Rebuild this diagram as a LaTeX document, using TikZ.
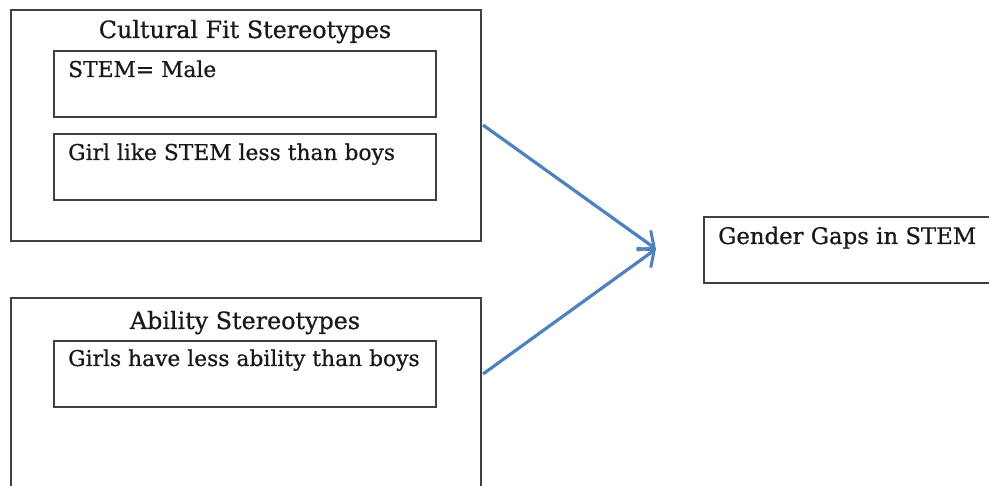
\documentclass[tikz,border=0pt]{standalone}
\usepackage{fontspec}
\setmainfont[UprightFeatures={FakeBold=0.7}]{DejaVu Serif}
\usetikzlibrary{arrows.meta,calc}
\tikzset{
  box/.style={draw=black!75, line width=1.6pt, inner sep=0pt, anchor=north west},
  lbl/.style={font=\fontsize{21.8}{26}\selectfont, text=black!90, inner sep=0pt},
  ttl/.style={font=\fontsize{23.8}{28}\selectfont, text=black!90, inner sep=0pt},
  flow/.style={draw={rgb,255:red,79;green,129;blue,189}, line width=3.2pt,
    -{Straight Barb[length=13pt,width=24pt,line width=3pt]}}
}
\begin{document}
\begin{tikzpicture}[x=1pt,y=-1pt]
\useasboundingbox (0,0) rectangle (989,486);
% outer boxes
\node[box, minimum width=470pt, minimum height=231pt] (cult) at (10,9) {};
\node[box, minimum width=470pt, minimum height=230pt] (abil) at (10,297) {};
% inner boxes
\node[box, minimum width=382pt, minimum height=66pt] (male) at (53,50) {};
\node[box, minimum width=382pt, minimum height=66pt] (like) at (53,133) {};
\node[box, minimum width=382pt, minimum height=66pt] (less) at (53,340) {};
\node[box, minimum width=300pt, minimum height=66pt] (gap) at (703,216) {};
% texts
\node[ttl, anchor=base] (tcult) at (245,38) {Cultural Fit Stereotypes};
\node[ttl, anchor=base] (tabil) at (245,329) {Ability Stereotypes};
\node[lbl, anchor=base west] (tmale) at (68,77) {STEM= Male};
\node[lbl, anchor=base west] (tlike) at (68,160) {Girl like STEM less than boys};
\node[lbl, anchor=base west] (tless) at (68,366) {Girls have less ability than boys};
\node[lbl, font=\fontsize{22.8}{27}\selectfont, anchor=base west] (tgap) at (718,244) {Gender Gaps in STEM};
% connectors
\coordinate (s1) at (483,125);
\coordinate (s2) at (483,374);
\coordinate (meet) at (656,249);
\draw[flow] (s1) -- (meet);
\draw[flow] (s2) -- (meet);
\end{tikzpicture}
\end{document}
